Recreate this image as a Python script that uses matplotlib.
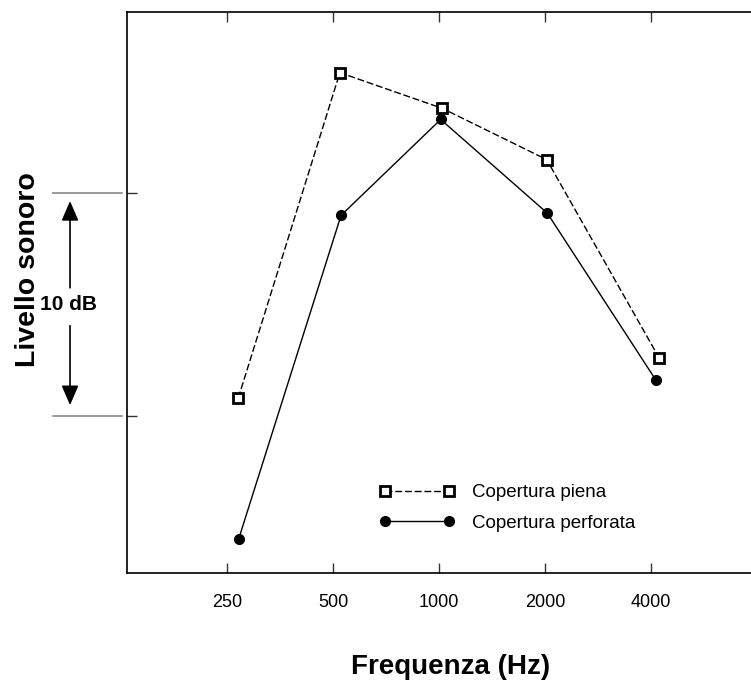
import matplotlib
matplotlib.use("Agg")
import matplotlib.pyplot as plt
import matplotlib.transforms as mtransforms

plt.rcParams['font.family'] = ['Liberation Sans', 'DejaVu Sans']

# Octave-band centre frequencies (Hz) and tick labels
band_ticks = [250, 500, 1000, 2000, 4000]
band_labels = ['250', '500', '1000', '2000', '4000']

# Sound level (dB, relative) for solid roof covering
freq_piena = [269, 523, 1021, 2022, 4220]
level_piena = [60.8, 75.4, 73.8, 71.5, 62.6]

# Sound level (dB, relative) for perforated roof covering
freq_perforata = [270, 527, 1011, 2030, 4133]
level_perforata = [54.5, 69.0, 73.3, 69.1, 61.6]

# Reference levels spanning the 10 dB scale bar
scale_levels = [60, 70]

W, H, DPI = 751, 684, 100
fig = plt.figure(figsize=(W / DPI, H / DPI), dpi=DPI)
ax = fig.add_axes([127 / W, (H - 573) / H, (W - 127) / W, (573 - 12) / H])

ax.plot(freq_piena, level_piena, color='black', lw=1.0,
        linestyle=(0, (5, 2)), marker='s', ms=7.8, mfc='white',
        mec='black', mew=2.0, label='Copertura piena')
ax.plot(freq_perforata, level_perforata, color='black', lw=1.0,
        linestyle='-', marker='o', ms=7, mfc='black', mec='black',
        label='Copertura perforata')

ax.set_xscale('log', base=2)
ax.set_xlim(130, 7690)
ax.set_ylim(52.96, 78.12)
ax.set_xticks(band_ticks)
ax.set_xticklabels(band_labels)
ax.minorticks_off()
ax.set_yticks(scale_levels)
ax.set_yticklabels([])

ax.tick_params(axis='x', which='major', direction='in', length=7, width=1,
               top=True, bottom=True, labelsize=13, pad=15, color='#333333')
ax.tick_params(axis='y', which='major', direction='in', length=7, width=1,
               left=True, right=False, color='#333333')

ax.spines['right'].set_visible(False)
for s in ('left', 'top', 'bottom'):
    ax.spines[s].set_linewidth(1.2)

ax.set_xlabel('Frequenza (Hz)', fontsize=20, fontweight='bold', va='center')
ax.xaxis.set_label_coords(0.518, -0.1676)
ax.set_ylabel('Livello sonoro', fontsize=20.5, fontweight='bold', va='center')
ax.yaxis.set_label_coords(-0.159, 0.54)

# 10 dB scale bar to the left of the axis
trans = mtransforms.blended_transform_factory(ax.transAxes, ax.transData)
for lv in scale_levels:
    ax.plot([-0.1186, -0.008], [lv, lv], color='#888888', lw=1.2,
            transform=trans, clip_on=False)
mid = sum(scale_levels) / 2
ax.text(-0.093, mid, '10 dB', transform=trans, fontsize=15,
        fontweight='bold', ha='center', va='center')
arrow = dict(arrowstyle='-|>,head_length=1.2,head_width=0.52',
             color='black', lw=1.2, shrinkA=0, shrinkB=0)
ax.annotate('', xy=(-0.0913, scale_levels[1] - 0.36),
            xytext=(-0.0913, mid + 0.75), xycoords=trans, textcoords=trans,
            arrowprops=arrow)
ax.annotate('', xy=(-0.0913, scale_levels[0] + 0.49),
            xytext=(-0.0913, mid - 0.95), xycoords=trans, textcoords=trans,
            arrowprops=arrow)

ax.legend(loc='upper left', bbox_to_anchor=(0.4045, 0.1586), frameon=False,
          numpoints=2, handlelength=4.0, handletextpad=0.94,
          labelspacing=0.72, fontsize=13.5, borderaxespad=0, borderpad=0)

fig.savefig('out.png', dpi=DPI)
